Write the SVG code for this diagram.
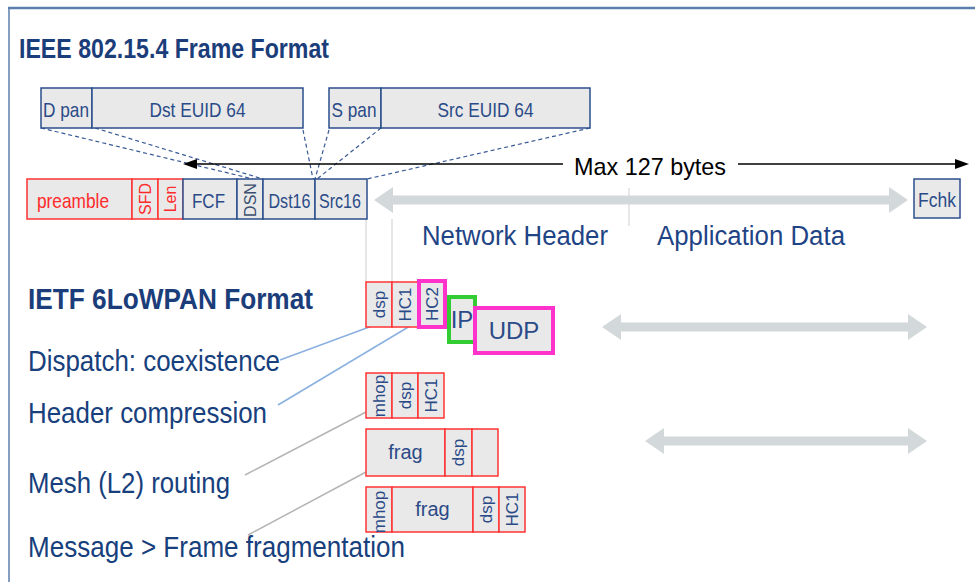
<svg xmlns="http://www.w3.org/2000/svg" width="975" height="582" viewBox="0 0 975 582">
<defs>
<style>
text{font-family:"Liberation Sans",Arial,sans-serif;}
.bb{fill:#e9e9e9;stroke:#2b4f8c;stroke-width:1.5;}
.rb{fill:#e9e9e9;stroke:#ff3333;stroke-width:1.5;}
.mb{fill:#e9e9e9;stroke:#ff33cc;stroke-width:4;}
.gb{fill:#e9e9e9;stroke:#33cc33;stroke-width:4;}
.bt{fill:#2b4b88;font-size:21px;text-anchor:middle;}
.rt{fill:#ff2a2a;font-size:21px;text-anchor:middle;}
.vt{fill:#2b4b88;font-size:17px;text-anchor:middle;}
.vr{fill:#ff2a2a;font-size:16px;text-anchor:middle;}
.h{fill:#1b3d7a;font-weight:bold;}
.lab{fill:#17407c;font-size:29px;}
.dash{stroke:#3a5a95;stroke-width:1.2;stroke-dasharray:4 3;fill:none;}
.garrow{fill:#d3d8da;}
</style>
</defs>
<rect x="0" y="0" width="975" height="582" fill="#ffffff"/>
<!-- frame -->
<line x1="8" y1="8" x2="975" y2="8" stroke="#5b7fad" stroke-width="2.5"/>
<line x1="9" y1="8" x2="9" y2="582" stroke="#5b7fad" stroke-width="1.5"/>

<text class="h" x="19" y="58" font-size="28" textLength="310" lengthAdjust="spacingAndGlyphs">IEEE 802.15.4 Frame Format</text>

<g id="connectors">
<line class="dash" x1="41" y1="128" x2="253" y2="179"/>
<line class="dash" x1="95" y1="128" x2="263" y2="179"/>
<line class="dash" x1="303" y1="130" x2="313" y2="179"/>
<line class="dash" x1="329" y1="130" x2="315" y2="179"/>
<line class="dash" x1="381" y1="128" x2="317" y2="179"/>
<line class="dash" x1="590" y1="128" x2="367" y2="179"/>
<line x1="366" y1="219" x2="366" y2="282" stroke="#cfcfcf" stroke-width="1"/>
<line x1="392" y1="219" x2="392" y2="282" stroke="#cfcfcf" stroke-width="1"/>
<line x1="629" y1="188" x2="629" y2="226" stroke="#d0d0d0" stroke-width="1"/>
<line x1="280" y1="360" x2="372" y2="326" stroke="#8ab0e0" stroke-width="1.5"/>
<line x1="278" y1="405" x2="410" y2="326" stroke="#8ab0e0" stroke-width="1.5"/>
<line x1="245" y1="475" x2="366" y2="412" stroke="#b4b4b4" stroke-width="1.5"/>
<line x1="248" y1="535" x2="366" y2="472" stroke="#b4b4b4" stroke-width="1.5"/>
<!-- Max 127 bytes arrow -->
<line x1="192" y1="164" x2="563" y2="164" stroke="#000" stroke-width="1.5"/>
<line x1="738" y1="164" x2="958" y2="164" stroke="#000" stroke-width="1.5"/>
<polygon points="183,164 197,159 197,169" fill="#000"/>
<polygon points="969,164 955,159 955,169" fill="#000"/>
<!-- grey double arrows -->
<polygon class="garrow" points="374,200 393,187 393,195.5 889,195.5 889,187 908,200 889,213 889,204.5 393,204.5 393,213"/>
<polygon class="garrow" points="602,327 621,314 621,322.5 908,322.5 908,314 927,327 908,340 908,331.5 621,331.5 621,340"/>
<polygon class="garrow" points="645,441 664,428 664,436.5 908,436.5 908,428 927,441 908,454 908,445.5 664,445.5 664,454"/>
</g>

<text x="574" y="175" font-size="24" fill="#000" textLength="152" lengthAdjust="spacingAndGlyphs">Max 127 bytes</text>

<!-- top address boxes -->
<g id="dpan"><rect class="bb" x="41" y="88" width="51" height="40"/><text class="bt" x="66" y="117" textLength="46" lengthAdjust="spacingAndGlyphs">D pan</text></g>
<g id="dsteuid"><rect class="bb" x="92" y="88" width="211" height="40"/><text class="bt" x="197.5" y="117" textLength="96" lengthAdjust="spacingAndGlyphs">Dst EUID 64</text></g>
<g id="span"><rect class="bb" x="329" y="88" width="52" height="40"/><text class="bt" x="354" y="117" textLength="45" lengthAdjust="spacingAndGlyphs">S pan</text></g>
<g id="srceuid"><rect class="bb" x="381" y="88" width="209" height="40"/><text class="bt" x="485.5" y="117" textLength="96" lengthAdjust="spacingAndGlyphs">Src EUID 64</text></g>

<!-- frame row -->
<g id="preamble"><rect class="rb" x="27" y="179" width="105" height="40"/><text class="rt" x="73" y="208" textLength="72" lengthAdjust="spacingAndGlyphs">preamble</text></g>
<g id="sfd"><rect class="rb" x="132" y="179" width="26" height="40"/><text class="vr" transform="translate(151,199) rotate(-90)" x="0" y="0">SFD</text></g>
<g id="len"><rect class="rb" x="158" y="179" width="25" height="40"/><text class="vr" transform="translate(176,199) rotate(-90)" x="0" y="0">Len</text></g>
<g id="fcf"><rect class="bb" x="183" y="179" width="54" height="40"/><text class="bt" x="208.5" y="208" textLength="33" lengthAdjust="spacingAndGlyphs">FCF</text></g>
<g id="dsn"><rect class="bb" x="237" y="179" width="26" height="40"/><text class="vt" transform="translate(256,200) rotate(-90)" x="0" y="0" style="fill:#3a4f70;font-size:16px">DSN</text></g>
<g id="dst16"><rect class="bb" x="263" y="179" width="52" height="40"/><text class="bt" x="289.5" y="208" textLength="42" lengthAdjust="spacingAndGlyphs">Dst16</text></g>
<g id="src16"><rect class="bb" x="315" y="179" width="52" height="40"/><text class="bt" x="340" y="208" textLength="42" lengthAdjust="spacingAndGlyphs">Src16</text></g>
<g id="fchk"><rect class="bb" x="914" y="179" width="46" height="39"/><text class="bt" x="937" y="207" style="font-size:20px" textLength="38" lengthAdjust="spacingAndGlyphs">Fchk</text></g>

<text x="422" y="245" font-size="27" fill="#1f4485" textLength="186" lengthAdjust="spacingAndGlyphs">Network Header</text>
<text x="657" y="245" font-size="27" fill="#1f4485" textLength="188" lengthAdjust="spacingAndGlyphs">Application Data</text>

<!-- 6LoWPAN -->
<text class="h" x="28" y="309" font-size="30" textLength="285" lengthAdjust="spacingAndGlyphs">IETF 6LoWPAN Format</text>
<text class="lab" x="28" y="371" textLength="252" lengthAdjust="spacingAndGlyphs">Dispatch: coexistence</text>
<text class="lab" x="28" y="423" textLength="239" lengthAdjust="spacingAndGlyphs">Header compression</text>
<text class="lab" x="28" y="493" textLength="202" lengthAdjust="spacingAndGlyphs">Mesh (L2) routing</text>
<text class="lab" x="28" y="557" textLength="377" lengthAdjust="spacingAndGlyphs">Message &gt; Frame fragmentation</text>

<!-- row 1 -->
<g id="r1-dsp"><rect class="rb" x="366" y="282" width="26" height="45"/><text class="vt" transform="translate(385,304.5) rotate(-90)">dsp</text></g>
<g id="r1-hc1"><rect class="rb" x="392" y="282" width="26" height="45"/><text class="vt" transform="translate(411,304.5) rotate(-90)">HC1</text></g>
<g id="r1-hc2"><rect class="mb" x="419" y="281" width="26" height="46"/><text class="vt" transform="translate(438,304) rotate(-90)">HC2</text></g>
<g id="r1-ip"><rect class="gb" x="449" y="297" width="26" height="45"/><text class="bt" x="462" y="328" style="font-size:24px">IP</text></g>
<g id="r1-udp"><rect class="mb" x="475" y="308" width="78" height="45"/><text class="bt" x="514" y="339" style="font-size:24px">UDP</text></g>

<!-- row 2 -->
<g id="r2-mhop"><rect class="rb" x="366" y="373" width="26" height="45"/><text class="vt" transform="translate(385,396) rotate(-90)">mhop</text></g>
<g id="r2-dsp"><rect class="rb" x="392" y="373" width="26" height="45"/><text class="vt" transform="translate(411,395.5) rotate(-90)">dsp</text></g>
<g id="r2-hc1"><rect class="rb" x="418" y="373" width="26" height="45"/><text class="vt" transform="translate(437,395.5) rotate(-90)">HC1</text></g>

<!-- row 3 -->
<g id="r3-frag"><rect class="rb" x="366" y="429" width="79" height="47"/><text class="bt" x="405.5" y="459" style="font-size:20px">frag</text></g>
<g id="r3-dsp"><rect class="rb" x="445" y="429" width="27" height="47"/><text class="vt" transform="translate(464,452.5) rotate(-90)">dsp</text></g>
<g id="r3-blank"><rect class="rb" x="472" y="429" width="26" height="47"/></g>

<!-- row 4 -->
<g id="r4-mhop"><rect class="rb" x="366" y="487" width="26" height="45"/><text class="vt" transform="translate(385,512) rotate(-90)">mhop</text></g>
<g id="r4-frag"><rect class="rb" x="392" y="487" width="81" height="45"/><text class="bt" x="432.5" y="516" style="font-size:20px">frag</text></g>
<g id="r4-dsp"><rect class="rb" x="473" y="487" width="26" height="45"/><text class="vt" transform="translate(492,509.5) rotate(-90)">dsp</text></g>
<g id="r4-hc1"><rect class="rb" x="499" y="487" width="26" height="45"/><text class="vt" transform="translate(518,509.5) rotate(-90)">HC1</text></g>
</svg>
